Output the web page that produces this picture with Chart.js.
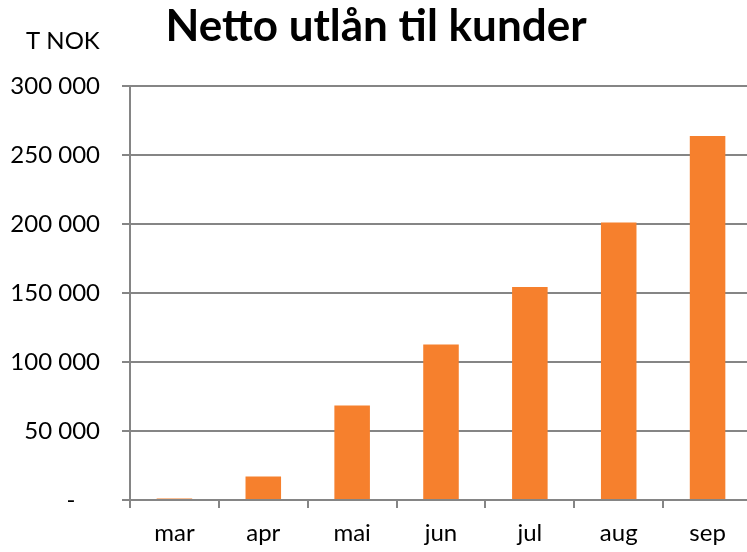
<!DOCTYPE html>
<html>
<head>
<meta charset="utf-8">
<script src="https://cdn.jsdelivr.net/npm/chart.js@4"></script>
<style>
  html, body { margin: 0; padding: 0; background: #fff; overflow: hidden; }
  #wrap { position: relative; width: 752px; height: 552px; }
</style>
</head>
<body>
<div id="wrap"><canvas id="chart"></canvas></div>
<script>
// data
const months = ['mar', 'apr', 'mai', 'jun', 'jul', 'aug', 'sep'];
const netLending = [1000, 17000, 68500, 112700, 154300, 201000, 263600];
const yTicks = [0, 50000, 100000, 150000, 200000, 250000, 300000];
const unitLabel = 'T NOK';
const chartTitle = 'Netto utlån til kunder';

const gridGray = '#858585';
const barOrange = '#f6802d';

// small text in the top left corner ("T NOK")
const unitLabelPlugin = {
    id: 'unitLabel',
    afterDraw(chart) {
        const ctx = chart.ctx;
        ctx.save();
        ctx.font = '24px Lato';
        ctx.fillStyle = '#000';
        ctx.textBaseline = 'alphabetic';
        ctx.textAlign = 'left';
        ctx.fillText(unitLabel, 26, 49);
        ctx.restore();
    }
};

function formatThousands(v) {
    if (v === 0) return '-    ';
    return String(v).replace(/\B(?=(\d{3})+(?!\d))/g, ' ');
}

new Chart(document.getElementById('chart'), {
    type: 'bar',
    data: {
        labels: months,
        datasets: [{
            label: chartTitle,
            data: netLending,
            backgroundColor: barOrange,
            borderWidth: 0,
            categoryPercentage: 1,
            barPercentage: 0.4
        }]
    },
    options: {
        responsive: true,
        maintainAspectRatio: false,
        animation: false,
        layout: { padding: 0 },
        plugins: {
            legend: { display: false },
            tooltip: { enabled: false },
            title: {
                display: true,
                text: chartTitle,
                color: '#000',
                font: { family: 'Lato', size: 44, weight: 'bold', lineHeight: 1.2 },
                padding: { top: 0, bottom: 33 }
            }
        },
        scales: {
            x: {
                grid: {
                    offset: true,
                    drawOnChartArea: false,
                    drawTicks: true,
                    tickLength: 8,
                    color: gridGray,
                    lineWidth: 2
                },
                border: { color: gridGray, width: 2 },
                ticks: {
                    color: '#000',
                    padding: 11,
                    font: { family: 'Lato', size: 24 }
                },
                afterFit(scale) { scale.height = 52; }
            },
            y: {
                min: 0,
                max: 300000,
                afterBuildTicks(scale) {
                    scale.ticks = yTicks.map(v => ({ value: v }));
                },
                grid: {
                    color: gridGray,
                    lineWidth: 2,
                    drawTicks: true,
                    tickLength: 8
                },
                border: { color: gridGray, width: 2 },
                ticks: {
                    color: '#000',
                    padding: 22,
                    font: { family: 'Lato', size: 24 },
                    callback: (v) => formatThousands(v)
                },
                afterFit(scale) { scale.width = 130; }
            }
        }
    },
    plugins: [unitLabelPlugin]
});
</script>
</body>
</html>
